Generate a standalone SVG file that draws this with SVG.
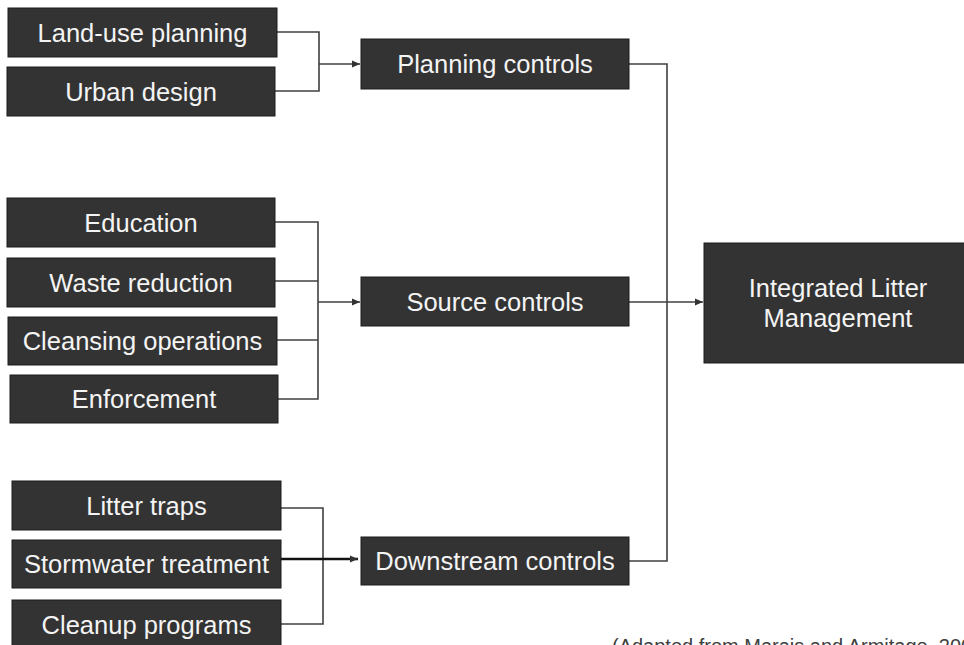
<svg xmlns="http://www.w3.org/2000/svg" width="964" height="645" viewBox="0 0 964 645">
  <style>
    .box { fill: #333333; stroke: #1c1c1c; stroke-width: 1; }
    .lbl { font-family: "Liberation Sans", Arial, sans-serif; font-size: 25.5px; fill: #f4f4f4; text-anchor: middle; }
    .con { fill: none; stroke: #404040; stroke-width: 1.6; }
    .thick { fill: none; stroke: #111111; stroke-width: 2.6; }
    .cap { font-family: "Liberation Sans", Arial, sans-serif; font-size: 20px; fill: #404040; }
  </style>
  <defs>
    <marker id="arr" markerUnits="userSpaceOnUse" markerWidth="9" markerHeight="8" refX="8" refY="4" orient="auto">
      <path d="M0,0.5 L8,4 L0,7.5 z" fill="#333333"/>
    </marker>
  </defs>
  <rect width="964" height="645" fill="#ffffff"/>

  <g id="connectors">
    <path class="con" d="M277,32 H319 V91 H275"/>
    <path class="con" d="M319,64 H360" marker-end="url(#arr)"/>
    <path class="con" d="M275,222 H318 V399 H278"/>
    <path class="con" d="M275,281 H318"/>
    <path class="con" d="M277,340 H318"/>
    <path class="con" d="M318,302 H360" marker-end="url(#arr)"/>
    <path class="con" d="M281,508 H323 V624 H281"/>
    <path class="thick" d="M281,559 H358" marker-end="url(#arr)"/>
    <path class="con" d="M629,64 H667 V561 H629"/>
    <path class="con" d="M629,302 H703" marker-end="url(#arr)"/>
  </g>

  <g id="land-use-planning"><rect class="box" x="8" y="8" width="269" height="49"/><text class="lbl" x="142.5" y="42">Land-use planning</text></g>
  <g id="urban-design"><rect class="box" x="7" y="67" width="268" height="49"/><text class="lbl" x="141" y="101">Urban design</text></g>
  <g id="planning-controls"><rect class="box" x="361" y="39" width="268" height="50"/><text class="lbl" x="495" y="73">Planning controls</text></g>

  <g id="education"><rect class="box" x="7" y="198" width="268" height="49"/><text class="lbl" x="141" y="232">Education</text></g>
  <g id="waste-reduction"><rect class="box" x="7" y="258" width="268" height="49"/><text class="lbl" x="141" y="292">Waste reduction</text></g>
  <g id="cleansing-operations"><rect class="box" x="8" y="317" width="269" height="48"/><text class="lbl" x="142.5" y="350">Cleansing operations</text></g>
  <g id="enforcement"><rect class="box" x="10" y="375" width="268" height="48"/><text class="lbl" x="144" y="408">Enforcement</text></g>
  <g id="source-controls"><rect class="box" x="361" y="277" width="268" height="49"/><text class="lbl" x="495" y="311">Source controls</text></g>

  <g id="litter-traps"><rect class="box" x="12" y="481" width="269" height="49"/><text class="lbl" x="146.5" y="515">Litter traps</text></g>
  <g id="stormwater-treatment"><rect class="box" x="12" y="540" width="269" height="48"/><text class="lbl" x="146.5" y="573">Stormwater treatment</text></g>
  <g id="cleanup-programs"><rect class="box" x="12" y="600" width="269" height="49"/><text class="lbl" x="146.5" y="634">Cleanup programs</text></g>
  <g id="downstream-controls"><rect class="box" x="361" y="537" width="268" height="48"/><text class="lbl" x="495" y="570">Downstream controls</text></g>

  <g id="integrated-litter-management"><rect class="box" x="704" y="243" width="268" height="120"/><text class="lbl" x="838" y="297">Integrated Litter</text><text class="lbl" x="838" y="327">Management</text></g>

  <text class="cap" x="612" y="653">(Adapted from Marais and Armitage, 200</text>
</svg>
